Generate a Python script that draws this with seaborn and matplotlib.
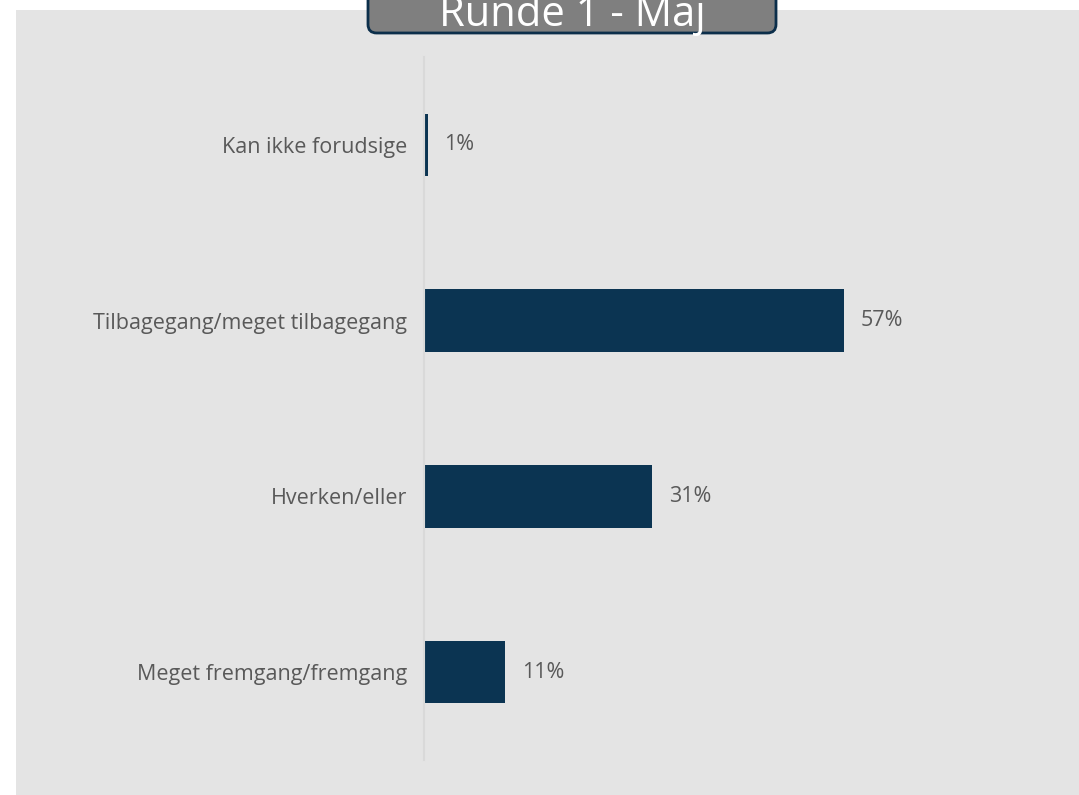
import matplotlib
matplotlib.use("Agg")
import matplotlib.pyplot as plt
import seaborn as sns
import pandas as pd
from matplotlib.patches import Rectangle, FancyBboxPatch

categories = ["Kan ikke forudsige", "Tilbagegang/meget tilbagegang", "Hverken/eller", "Meget fremgang/fremgang"]
values = [0.5, 57, 31, 11]
value_labels = ["1%", "57%", "31%", "11%"]
title = "Runde 1 - Maj"

sns.set_theme(style="white")
plt.rcParams["font.family"] = ["Open Sans", "DejaVu Sans"]

BG = "#E4E4E4"
BAR = "#0B3452"
TXT = "#595959"

W, H = 1079, 795
fig = plt.figure(figsize=(W / 100, H / 100), dpi=100)
fig.patch.set_facecolor("white")
bgrect = Rectangle((16 / W, 0), 1 - 16 / W, 1 - 10 / H, transform=fig.transFigure,
                   facecolor=BG, edgecolor="none", zorder=-5)
fig.patches.append(bgrect)

ax = fig.add_axes([424 / W, 1 - 760 / H, (1040 - 424) / W, (760 - 57) / H])
ax.set_zorder(1)
ax.set_facecolor(BG)

df = pd.DataFrame({"cat": categories, "val": values})
sns.barplot(data=df, x="val", y="cat", order=categories, color=BAR, saturation=1,
            width=0.355, ax=ax, orient="h", linewidth=0, edgecolor=BAR)

ax.set_xlim(0, (1040 - 424) / ((844 - 424) / 57))
ax.set_ylim(3.5, -0.5)
ax.set_xlabel("")
ax.set_ylabel("")
ax.set_xticks([])
for s in ["top", "right", "bottom"]:
    ax.spines[s].set_visible(False)
ax.spines["left"].set_color("#D9D9D9")
ax.spines["left"].set_linewidth(1.5)
ax.tick_params(axis="y", length=0, pad=12, labelsize=15.5, labelcolor=TXT)

for cont in ax.containers:
    ax.bar_label(cont, labels=value_labels, padding=12, fontsize=15.5, color=TXT)

box = FancyBboxPatch((368 / W, 1 - 33 / H), (776 - 368) / W, 0.06,
                     boxstyle="round,pad=0,rounding_size=0.008", transform=fig.transFigure,
                     facecolor="#7F7F7F", edgecolor="#0B2E4A", linewidth=2, zorder=3,
                     mutation_aspect=W / H)
fig.patches.append(box)
fig.text(572 / W, 1 - 26 / H, title, ha="center", va="baseline", fontsize=30,
         color="white", zorder=4)

fig.savefig("out.png", dpi=100)
